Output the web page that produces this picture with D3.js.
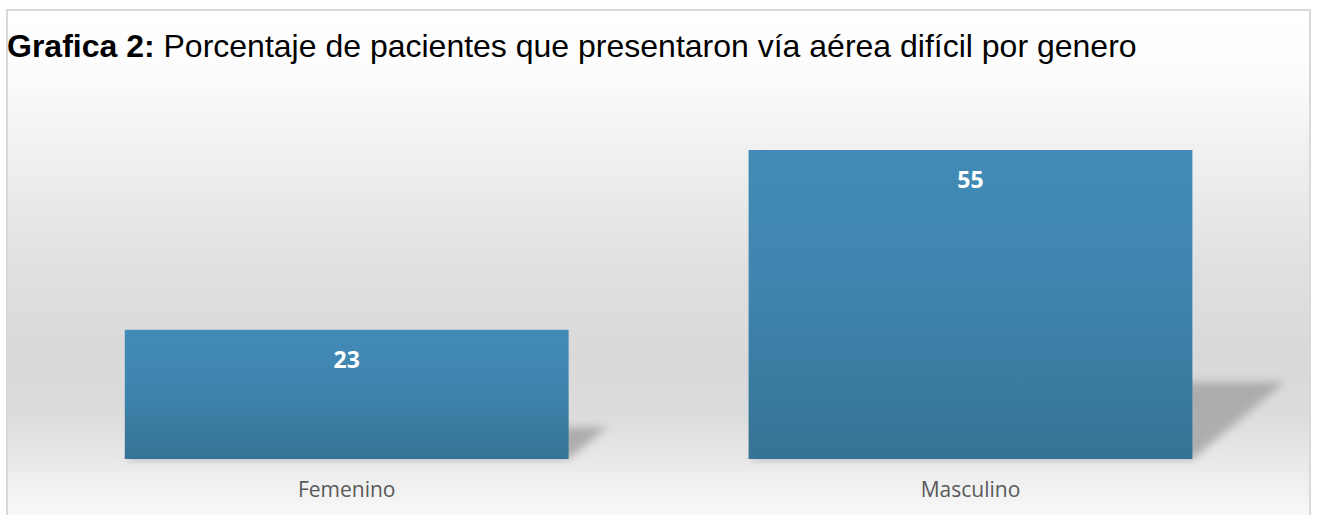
<!DOCTYPE html>
<html><head><meta charset="utf-8">
<script src="https://cdn.jsdelivr.net/npm/d3@7"></script>
<style>html,body{margin:0;padding:0;background:#fff;}svg{display:block;}</style>
</head><body>
<script>
const categories = ["Femenino", "Masculino"];
const values = [23, 55];
const titleBold = "Grafica 2:";
const titleRest = " Porcentaje de pacientes que presentaron vía aérea difícil por genero";

const W = 1318, H = 515;
const svg = d3.select("body").append("svg").attr("width", W).attr("height", H);
const defs = svg.append("defs");

const bg = defs.append("linearGradient").attr("id","bg").attr("x1",0).attr("y1",0).attr("x2",0).attr("y2",1);
[[0,"#ffffff"],[0.12,"#fcfcfc"],[0.25,"#f2f2f2"],[0.5,"#e0e0e0"],[0.66,"#d9d9d9"],[0.78,"#dcdcdc"],[0.9,"#eeeeee"],[1,"#fcfcfc"]]
  .forEach(([o,c])=>bg.append("stop").attr("offset",o).attr("stop-color",c));

const bar = defs.append("linearGradient").attr("id","bar").attr("x1",0).attr("y1",0).attr("x2",0).attr("y2",1);
[[0,"#418bb6"],[0.4,"#3f86b0"],[1,"#367395"]]
  .forEach(([o,c])=>bar.append("stop").attr("offset",o).attr("stop-color",c));

const blur = defs.append("filter").attr("id","blur").attr("x","-20%").attr("y","-50%").attr("width","140%").attr("height","200%");
blur.append("feGaussianBlur").attr("stdDeviation",4);

// frame + background
svg.append("rect").attr("x",7).attr("y",10).attr("width",1303).attr("height",520)
  .attr("fill","url(#bg)").attr("stroke","#d9d9d9").attr("stroke-width",2);

// title
const t = svg.append("text").attr("x",7).attr("y",57)
  .attr("font-family","'Liberation Sans', Arial, sans-serif").attr("font-size",32).attr("fill","#000");
t.append("tspan").attr("font-weight","bold").text(titleBold);
t.append("tspan").attr("xml:space","preserve").style("white-space","pre").text(titleRest);

// scales
const x = d3.scaleBand().domain(categories).range([25, 1292.2]).paddingInner(0.2885).paddingOuter(0.16);
const baseY = 459;
const y = d3.scaleLinear().domain([0, 55]).range([baseY, 150]);

// shadows
svg.append("g").selectAll("path").data(values).join("path")
  .attr("filter","url(#blur)")
  .attr("fill","#a8a8a8").attr("opacity",0.9)
  .attr("d",(d,i)=>{
    const x0 = x(categories[i]), x1 = x0 + x.bandwidth();
    const h = baseY - y(d);
    const dy = h*0.25, dx = h*0.3;
    return `M${x0},${baseY}L${x1},${baseY}L${x1+dx},${baseY-dy}L${x0+dx},${baseY-dy}Z`;
  });

// bars
svg.append("g").selectAll("rect").data(values).join("rect")
  .attr("x",(d,i)=>x(categories[i])).attr("width",x.bandwidth())
  .attr("y",d=>y(d)).attr("height",d=>baseY-y(d))
  .attr("fill","url(#bar)");

// value labels
svg.append("g").selectAll("text").data(values).join("text")
  .attr("x",(d,i)=>x(categories[i])+x.bandwidth()/2)
  .attr("y",d=>y(d)+38)
  .attr("text-anchor","middle").attr("font-family","'Open Sans', sans-serif")
  .attr("font-weight","bold").attr("font-size",23).attr("fill","#fff")
  .text(d=>d);

// x axis labels
const ax = svg.append("g").attr("transform",`translate(0,${baseY})`)
  .call(d3.axisBottom(x).tickSize(0).tickPadding(0));
ax.select(".domain").remove();
ax.selectAll("text").attr("y",38).attr("dy",null)
  .attr("font-family","'Open Sans', sans-serif").attr("font-size",21).attr("fill","#595959");
</script>
</body></html>
